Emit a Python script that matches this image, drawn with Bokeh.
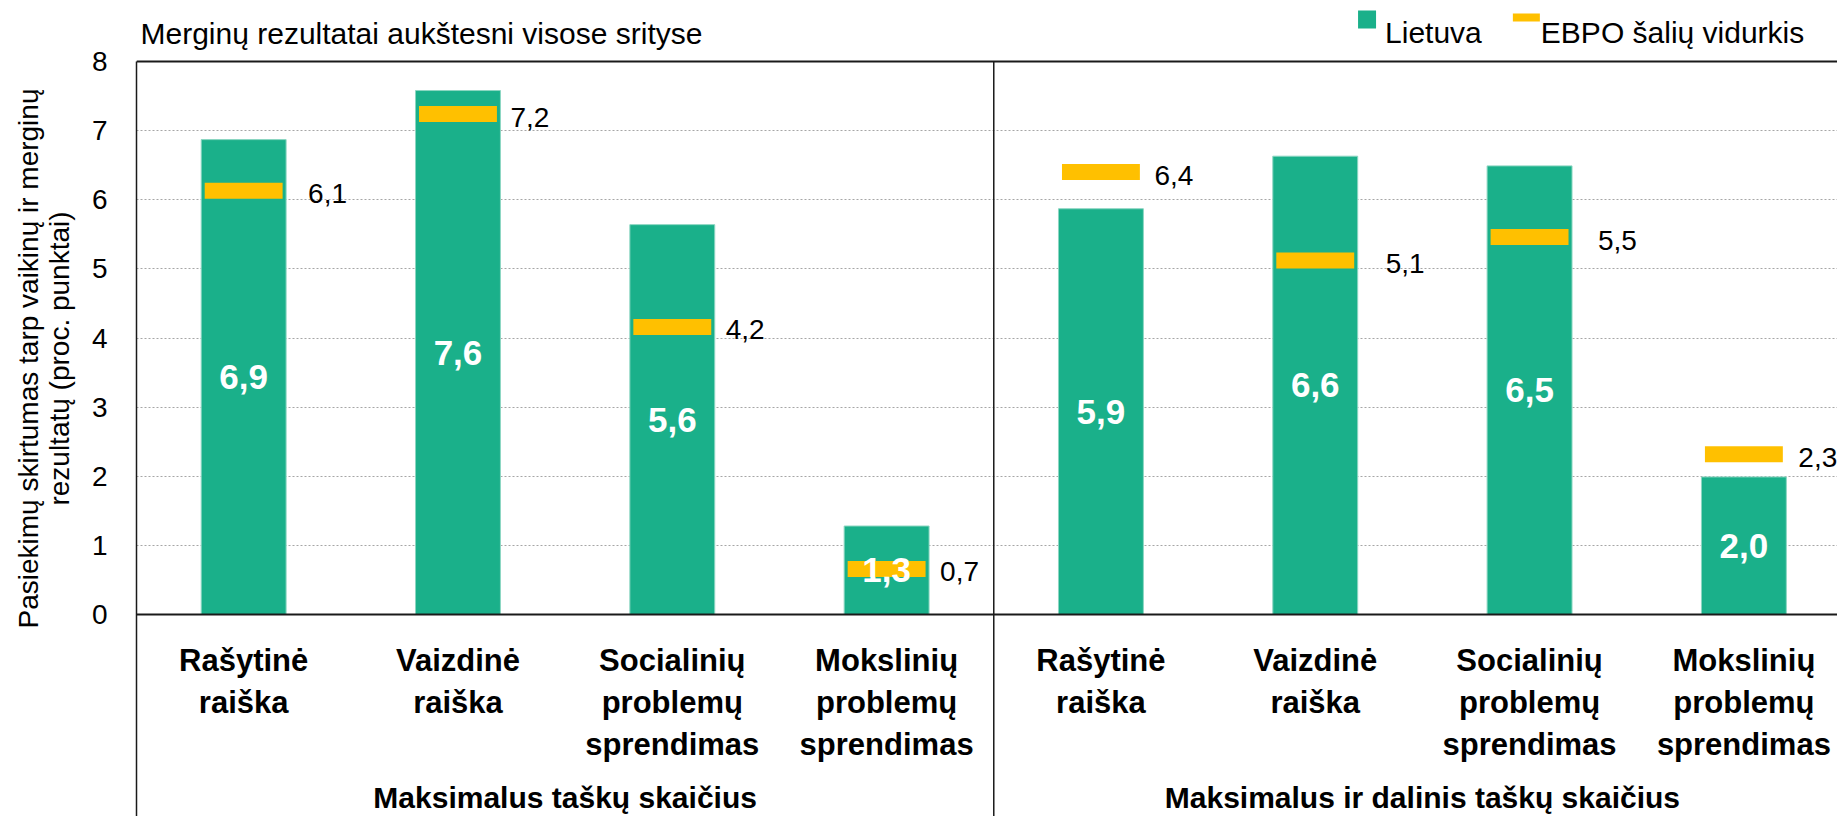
import math
from bokeh.plotting import figure
from bokeh.layouts import row
from bokeh.models import Range1d, FixedTicker, Span, Label, ColumnDataSource
from bokeh.core.properties import value
from bokeh.embed import file_html
from bokeh.resources import INLINE

# ---------------- data ----------------
categories = [
    "Rašytinė\nraiška", "Vaizdinė\nraiška",
    "Socialinių\nproblemų\nsprendimas", "Mokslinių\nproblemų\nsprendimas",
    "Rašytinė\nraiška", "Vaizdinė\nraiška",
    "Socialinių\nproblemų\nsprendimas", "Mokslinių\nproblemų\nsprendimas",
]
groups = ["Maksimalus taškų skaičius", "Maksimalus ir dalinis taškų skaičius"]
lietuva = [6.87, 7.58, 5.64, 1.28, 5.87, 6.63, 6.49, 1.99]
ebpo = [6.13, 7.24, 4.16, 0.66, 6.40, 5.12, 5.46, 2.32]
y_ticks = [0, 1, 2, 3, 4, 5, 6, 7, 8]
title_text = "Merginų rezultatai aukštesni visose srityse"
y_title = ["Pasiekimų skirtumas tarp vaikinų ir merginų", "rezultatų (proc. punktai)"]
legend_labels = ["Lietuva", "EBPO šalių vidurkis"]

# ---------------- style ----------------
label_gap_px = [22, 10, 11, 11, 11, 28, 26, 12]
GREEN = "#1AB08A"
YELLOW = "#FFC000"
INK = "#000000"
LINE = "#1a1a1a"
FONT = "Liberation Sans"

W, H = 1837, 816
TITLE_W = 88            # left strip holding the y-axis title
FRAME_LEFT = 134        # page x of the plot frame's left edge
CAT_PX = 214.57
Y0, Y8 = 614, 61        # page y of values 0 and 8
PPU = (Y0 - Y8) / 8.0
x_end = (W - FRAME_LEFT) / CAT_PX
y_top = 8 + Y8 / PPU
y_bot = -(H - Y0) / PPU


def dx(sx):
    return (sx - FRAME_LEFT) / CAT_PX


def dy(sy):
    return (Y0 - sy) / PPU


def fmt(v):
    return f"{v:.1f}".replace(".", ",")


xs = [i + 0.5 for i in range(len(lietuva))]
BAR_W = 85 / CAT_PX
MARK_W = 78 / CAT_PX

src = ColumnDataSource(dict(
    x=xs, lt=lietuva, oecd=ebpo, half=[v / 2 for v in lietuva],
    lt_txt=[fmt(v) for v in lietuva], oecd_txt=[fmt(v) for v in ebpo],
    lab_x=[x + BAR_W / 2 for x in xs], gap=label_gap_px, cat=categories,
))

# ---------- left strip: y-axis title ----------
pt = figure(width=TITLE_W, height=H, x_range=Range1d(0, TITLE_W), y_range=Range1d(H, 0),
            output_backend="svg", toolbar_location=None,
            x_axis_location=None, y_axis_location=None,
            min_border_left=0, min_border_right=0, min_border_top=0, min_border_bottom=0)
pt.outline_line_color = None
pt.grid.visible = False
pt.text(x=[28, 59], y=[358, 358], text=y_title, angle=math.pi / 2,
        text_align="center", text_baseline="middle",
        text_font=value(FONT), text_font_size="28px", text_color=INK)

# ---------- main chart ----------
p = figure(width=W - TITLE_W, height=H, x_range=Range1d(0, x_end), y_range=Range1d(y_bot, y_top),
           output_backend="svg", toolbar_location=None, x_axis_location=None,
           min_border_left=FRAME_LEFT - TITLE_W, min_border_right=0,
           min_border_top=0, min_border_bottom=0)
p.outline_line_color = None
p.background_fill_color = "white"
p.border_fill_color = "white"
p.xgrid.visible = False
p.ygrid.ticker = FixedTicker(ticks=y_ticks[1:])
p.ygrid.grid_line_color = "#a6a6a6"
p.ygrid.grid_line_dash = "2 2"
p.ygrid.grid_line_width = 1

ax = p.yaxis[0]
ax.ticker = FixedTicker(ticks=y_ticks)
ax.bounds = (y_bot, 8)
ax.axis_line_color = LINE
ax.axis_line_width = 1.5
ax.major_tick_line_color = None
ax.minor_tick_line_color = None
ax.major_label_text_font = FONT
ax.major_label_text_font_size = "28px"
ax.major_label_text_color = INK
ax.major_label_standoff = 23

# bars and markers
p.vbar(x="x", top="lt", width=BAR_W, bottom=0, source=src,
       fill_color=GREEN, line_color="#8cd6c2", line_width=1)
p.rect(x="x", y="oecd", width=MARK_W, height=16, height_units="screen", source=src,
       fill_color=YELLOW, line_color=None)

# frame lines
p.add_layout(Span(location=8, dimension="width", line_color=LINE, line_width=2))
p.add_layout(Span(location=0, dimension="width", line_color=LINE, line_width=2))
p.segment(x0=[len(lietuva) / 2], y0=[y_bot], x1=[len(lietuva) / 2], y1=[8],
          line_color=LINE, line_width=1.5)

# value labels
p.text(x="x", y="half", text="lt_txt", source=src, text_align="center", text_baseline="middle",
       text_font=value(FONT), text_font_style="bold", text_font_size="35px", text_color="white")
p.text(x="lab_x", y="oecd", text="oecd_txt", source=src, x_offset="gap", y_offset=3,
       text_align="left", text_baseline="middle",
       text_font=value(FONT), text_font_size="28px", text_color=INK)

# category labels
p.text(x="x", y=dy(642), text="cat", source=src, text_align="center", text_baseline="top",
       text_font=value(FONT), text_font_style="bold", text_font_size="31px",
       text_color=INK, text_line_height=1.21)
p.text(x=[len(lietuva) / 4, 3 * len(lietuva) / 4], y=[dy(797)] * 2, text=groups,
       text_align="center", text_baseline="alphabetic",
       text_font=value(FONT), text_font_style="bold", text_font_size="30px", text_color=INK)

# title
p.add_layout(Label(x=dx(138), y=dy(33), text=title_text, text_font=FONT,
                   text_font_size="30px", text_color=INK, text_baseline="alphabetic"))

# legend
p.rect(x=[dx(1366)], y=[dy(19)], width=18, height=18, width_units="screen",
       height_units="screen", fill_color=GREEN, line_color=None)
p.add_layout(Label(x=dx(1384), y=dy(32), text=legend_labels[0], text_font=FONT,
                   text_font_size="30px", text_color=INK, text_baseline="alphabetic"))
p.rect(x=[dx(1525.5)], y=[dy(17)], width=27, height=8, width_units="screen",
       height_units="screen", fill_color=YELLOW, line_color=None)
p.add_layout(Label(x=dx(1540), y=dy(32), text=legend_labels[1], text_font=FONT,
                   text_font_size="30px", text_color=INK, text_baseline="alphabetic"))

layout = row(pt, p, spacing=0)
open("out.html", "w").write(file_html(layout, INLINE))
